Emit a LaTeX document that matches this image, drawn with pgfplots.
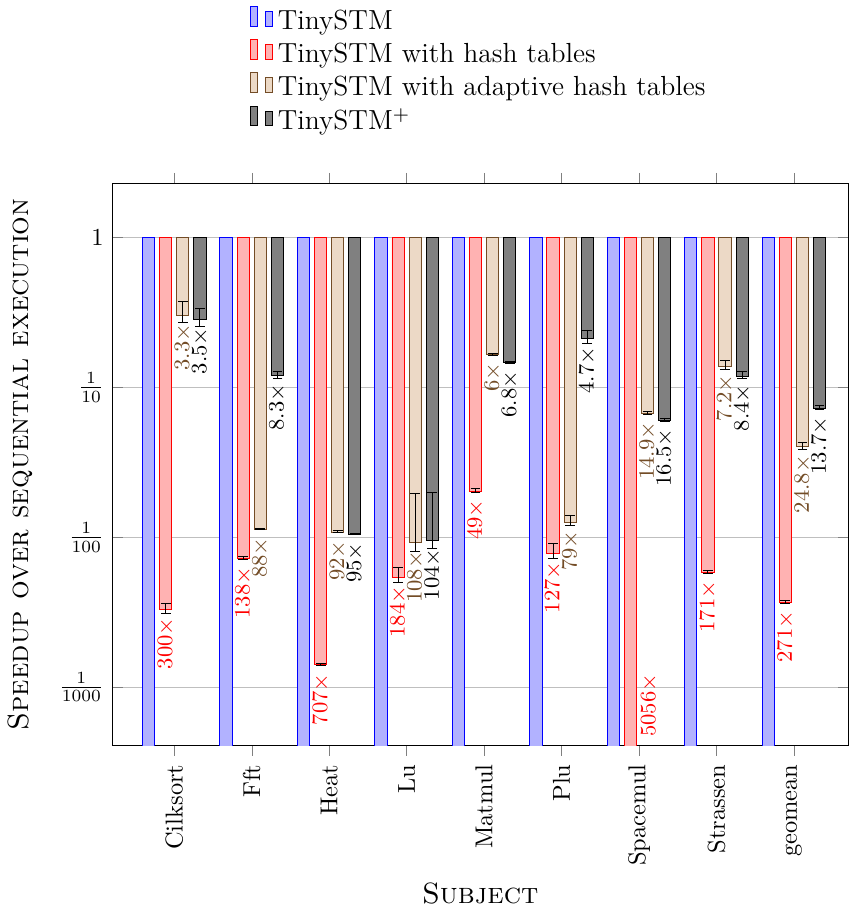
\documentclass[border=0pt]{standalone}
\usepackage{pgfplots}
\usepackage{pgfplotstable}
\pgfplotsset{compat=1.18}
\DeclareRobustCommand{\X}{$\times$}
\pgfplotstableread{
x y ep em l
0 0.003333 0.0003 0.0002 300\X
1 0.007246 0.0002 0.0001 138\X
2 0.001414 0.00003 0.00002 707\X
3 0.005435 0.0009 0.0004 184\X
4 0.020408 0.0008 0.0005 49\X
5 0.007874 0.0012 0.0006 127\X
6 0.0001978 0 0 {}
7 0.005848 0.0002 0.0001 171\X
8 0.003690 0.0001 0.00005 271\X
}\tabRed
\pgfplotstableread{
x y ep em l
0 0.30303 0.07 0.03 3.3\X
1 0.011364 0.0002 0.0001 88\X
2 0.010870 0.0002 0.0001 92\X
3 0.009259 0.0104 0.0012 108\X
4 0.166667 0.003 0.002 6\X
5 0.012658 0.0013 0.0007 79\X
6 0.067114 0.002 0.0015 14.9\X
7 0.138889 0.013 0.008 7.2\X
8 0.040323 0.0025 0.0015 24.8\X
}\tabTan
\pgfplotstableread{
x y ep em l
0 0.285714 0.05 0.03 3.5\X
1 0.120482 0.008 0.005 8.3\X
2 0.010526 0.0001 0.0001 95\X
3 0.009615 0.0102 0.0012 104\X
4 0.147059 0.002 0.0015 6.8\X
5 0.212766 0.029 0.015 4.7\X
6 0.060606 0.002 0.0015 16.5\X
7 0.119048 0.008 0.005 8.4\X
8 0.072993 0.003 0.002 13.7\X
}\tabBlack
\begin{document}
\begin{tikzpicture}
\begin{axis}[
  scale only axis,
  width=301pt, height=230pt,
  ybar=2.0pt, bar width=5pt,
  ymode=log, log origin=0,
  ymin=4.1e-4, ymax=2.3,
  xmin=-0.8, xmax=8.7,
  xtick={0,...,8},
  xticklabels={Cilksort,Fft,Heat,Lu,Matmul,Plu,Spacemul,Strassen,geomean},
  x tick label style={rotate=90, anchor=east},
  ytick={1,0.1,0.01,0.001},
  yticklabels={$1$,$\frac{1}{10}$,$\frac{1}{100}$,$\frac{1}{1000}$},
  ymajorgrids,
  major grid style={gray!50},
  tick style={gray},
  xlabel={\textsc{Subject}},
  ylabel={\textsc{Speedup over sequential execution}},
  label style={font=\large},
  ylabel style={yshift=3.7pt},
  legend style={at={(0.5,1.07)}, anchor=south, draw=none,
    font=\fontsize{11.3}{13.6}\selectfont},
  legend cell align=left,
]
\addplot[blue, fill=blue!30!white] coordinates {(0,1e-4) (1,1e-4) (2,1e-4) (3,1e-4) (4,1e-4) (5,1e-4) (6,1e-4) (7,1e-4) (8,1e-4)};
\addlegendentry{TinySTM}
\addplot[red, fill=red!30!white, point meta=explicit symbolic,
  nodes near coords={\pgfplotspointmeta},
  every node near coord/.append style={rotate=90, anchor=east, font=\small},
  error bars/.cd, y dir=both, y explicit, error bar style={black}]
  table[x=x, y=y, y error plus=ep, y error minus=em, meta=l] {\tabRed};
\addlegendentry{TinySTM with hash tables}
\addplot[brown!60!black, fill=brown!30!white, point meta=explicit symbolic,
  nodes near coords={\pgfplotspointmeta},
  every node near coord/.append style={rotate=90, anchor=east, font=\small},
  error bars/.cd, y dir=both, y explicit, error bar style={black}]
  table[x=x, y=y, y error plus=ep, y error minus=em, meta=l] {\tabTan};
\addlegendentry{TinySTM with adaptive hash tables}
\addplot[black, fill=gray, point meta=explicit symbolic,
  nodes near coords={\pgfplotspointmeta},
  every node near coord/.append style={rotate=90, anchor=east, font=\small},
  error bars/.cd, y dir=both, y explicit, error bar style={black}]
  table[x=x, y=y, y error plus=ep, y error minus=em, meta=l] {\tabBlack};
\addlegendentry{TinySTM$^+$}
\node[rotate=90, anchor=west, font=\small, text=red] at (axis cs:6.13,4.1e-4) {5056\X};
\end{axis}
\end{tikzpicture}
\end{document}
